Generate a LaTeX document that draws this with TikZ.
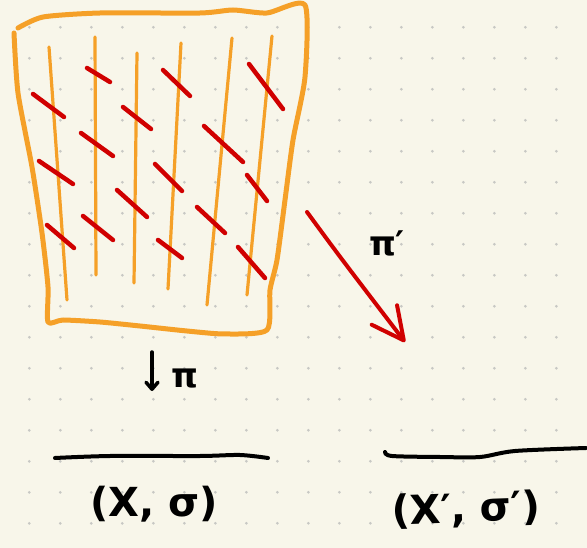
\documentclass[tikz,border=0pt]{standalone}
\usepackage{fontspec}
\setmainfont{DejaVu Sans}
\usetikzlibrary{arrows.meta}

\definecolor{paper}{RGB}{248,246,234}
\definecolor{griddot}{RGB}{200,200,196}
\definecolor{marker}{RGB}{245,160,40}
\definecolor{ink}{RGB}{208,0,0}

\begin{document}
\begin{tikzpicture}[
        x=1pt, y=-1pt,
        grid dot/.style={fill=griddot},
        frame line/.style={draw=marker, line width=5pt, line cap=round, line join=round},
        fibre line/.style={draw=marker, line width=3.2pt, line cap=round},
        tick mark/.style={draw=ink, line width=4.5pt, line cap=round},
        map arrow/.style={draw=ink, line width=4pt, line cap=round, -{Straight Barb[length=32pt,width=32pt,round]}},
        small arrow/.style={draw=black, line width=3.5pt, line cap=round, -{Straight Barb[length=7pt,width=12pt,round]}},
        base line/.style={draw=black, line width=4pt, line cap=round},
        big label/.style={font=\fontsize{40pt}{46pt}\selectfont\bfseries, inner sep=0pt},
        small label/.style={font=\fontsize{34pt}{40pt}\selectfont\bfseries, inner sep=0pt},
    ]

    % Nền giấy và lưới chấm
    \fill[paper] (0,0) rectangle (587,548);
    \useasboundingbox (0,0) rectangle (587,548);
    \foreach \i in {0,...,17} {
        \foreach \j in {0,...,16} {
            \fill[grid dot] (29.3+31*\i, 27.3+31*\j) circle (1.5pt);
        }
    }

    % Khung cam của bó
    \draw[frame line] plot[smooth, tension=0.4] coordinates {
        (18,28) (43,17) (100,13) (200,13) (233,10) (267,13) (305,5)
        (305,77) (293,140) (285,200) (277,260) (270,290) (267,330)
        (225,334) (187,331) (140,326) (100,322) (63,320) (48,322)
        (48,287) (42,233) (32,167) (18,93) (14,33)
    };

    % Các thớ (đường dọc màu cam)
    \foreach \xa/\ya/\xb/\yb in {49/47/67/300, 95/37/96/275, 137/53/134/283,
                                 181/43/168/289, 232/38/207/305, 272/36/247/295} {
        \draw[fibre line] (\xa,\ya) -- (\xb,\yb);
    }

    % Các vạch đỏ cắt ngang thớ
    \foreach \xa/\ya/\xb/\yb in {
        87/68/110/82, 163/70/190/96, 249/64/283/109,
        33/94/64/117, 123/107/151/129, 204/126/243/162,
        81/133/113/156, 39/161/73/184, 155/164/182/191,
        247/175/267/201, 117/190/147/217, 197/207/225/233,
        47/225/74/248, 83/216/113/240, 158/240/182/258,
        238/247/265/278} {
        \draw[tick mark] (\xa,\ya) -- (\xb,\yb);
    }

    % Ánh xạ pi' (mũi tên đỏ)
    \coordinate (arrow-start) at (307,212);
    \coordinate (arrow-end) at (405,342);
    \draw[map arrow] (arrow-start) .. controls (340,257) .. (arrow-end);
    \node[small label] (pi-prime) at (387,243) {π′};

    % Ánh xạ pi xuống đáy
    \coordinate (proj-top) at (152,352);
    \coordinate (proj-bottom) at (152,391);
    \draw[small arrow] (proj-top) -- (proj-bottom);
    \node[small label] (pi-down) at (185,379) {π};

    % Các gạch ngang và không gian đáy
    \draw[base line] plot[smooth] coordinates {(55,458) (110,456) (200,456) (240,455) (268,458)};
    \draw[base line] plot[smooth] coordinates {(385,452) (392,456) (440,457) (480,457) (515,451) (586,448)};
    \node[big label] (base-left) at (154,504) {(X, σ)};
    \node[big label, rotate=2] (base-right) at (466,510) {(X′, σ′)};

\end{tikzpicture}
\end{document}
